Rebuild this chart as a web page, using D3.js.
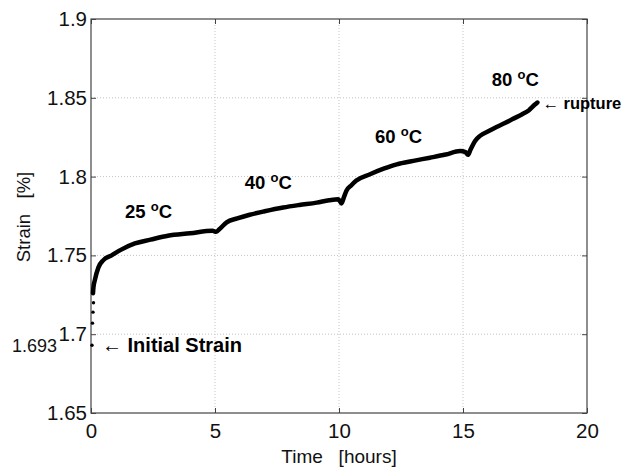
<!DOCTYPE html>
<html>
<head>
<meta charset="utf-8">
<script src="https://cdn.jsdelivr.net/npm/d3@7"></script>
<style>
  body { margin: 0; background: #fff; }
  text { font-family: "Liberation Sans", Arial, sans-serif; }
</style>
</head>
<body>
<div class="container"></div>
<script>
var margin = {top: 19, right: 44, bottom: 57, left: 91}
    , width = 631 - margin.left - margin.right
    , height = 470 - margin.top - margin.bottom;

// DATA
const timeHours = [0, 0.02, 0.04, 0.06, 0.08, 0.1, 0.15, 0.3, 0.5, 0.83, 1.2, 1.77, 2.4, 3.1, 4.0, 4.9,
  5.05, 5.2, 5.47, 5.9, 6.4, 7.0, 7.75, 8.4, 9.1, 9.6, 9.97,
  10.1, 10.2, 10.3, 10.5, 10.7, 11.25, 11.8, 12.33, 13.0, 13.67, 14.3, 14.88,
  15.1, 15.2, 15.3, 15.48, 15.7, 16.02, 16.35, 16.69, 17.0, 17.37, 17.65, 17.9, 18.0]
const strainPct = [1.693, 1.707, 1.714, 1.720, 1.726, 1.730, 1.734, 1.7424, 1.747, 1.750, 1.7535, 1.7576, 1.760, 1.7625, 1.764, 1.7656,
  1.765, 1.767, 1.771, 1.7735, 1.7758, 1.778, 1.7804, 1.782, 1.7835, 1.785, 1.7857,
  1.783, 1.787, 1.791, 1.7945, 1.7975, 1.8015, 1.805, 1.8078, 1.810, 1.812, 1.814, 1.8162,
  1.8155, 1.8138, 1.817, 1.8225, 1.826, 1.8288, 1.8315, 1.834, 1.8365, 1.8394, 1.842, 1.8457, 1.847]

const xTicks = [0, 5, 10, 15, 20]
const yTicks = [1.65, 1.7, 1.75, 1.8, 1.85, 1.9]

const tempLabels = ['25', '40', '60', '80']
const tempPos = [[1.37, 1.774], [6.2, 1.7922], [11.45, 1.8215], [16.16, 1.8574]]  // [time, strain] of label baseline

const initialStrain = 1.693
const ruptureTime = 18.0
const ruptureStrain = 1.8465

// COLORS
const black = '#000'
const axisColor = '#444'
const gridColor = '#c4c4c4'

var x = d3.scaleLinear().domain([0, 20]).range([0, width])
var y = d3.scaleLinear().domain([1.65, 1.9]).range([height, 0])

var svg = d3.select('div.container').append('svg')
    .attr('width', width + margin.left + margin.right)
    .attr('height', height + margin.top + margin.bottom)

var g = svg.append('g')
    .attr('transform', `translate(${margin.left},${margin.top})`)

// grid
g.selectAll('line.vgrid')
  .data(xTicks.slice(1, -1))
  .enter().append('line')
    .attr('class', 'vgrid')
    .attr('x1', d => x(d)).attr('x2', d => x(d))
    .attr('y1', 0).attr('y2', height)
    .attr('stroke', gridColor)
    .attr('stroke-dasharray', '1,2')

g.selectAll('line.hgrid')
  .data(yTicks.slice(1, -1))
  .enter().append('line')
    .attr('class', 'hgrid')
    .attr('x1', 0).attr('x2', width)
    .attr('y1', d => y(d)).attr('y2', d => y(d))
    .attr('stroke', gridColor)
    .attr('stroke-dasharray', '1,2')

// axes (ticks inward, on all four sides)
var tickStyle = function(sel) {
  sel.select('.domain').remove()
  sel.selectAll('.tick line').attr('stroke', axisColor)
  sel.selectAll('.tick text')
     .attr('fill', '#111')
     .style('font-size', '20.5px')
}

g.append('g')
  .attr('transform', `translate(0,${height})`)
  .call(d3.axisBottom(x).tickValues(xTicks).tickSize(-5).tickPadding(10).tickFormat(d3.format('d')))
  .call(tickStyle)

g.append('g')
  .call(d3.axisTop(x).tickValues(xTicks).tickSize(-5).tickFormat(''))
  .call(tickStyle)

g.append('g')
  .call(d3.axisLeft(y).tickValues(yTicks).tickSize(-5).tickPadding(4).tickFormat(d => d3.format('')(+d.toFixed(2))))
  .call(tickStyle)

g.append('g')
  .attr('transform', `translate(${width},0)`)
  .call(d3.axisRight(y).tickValues(yTicks).tickSize(-5).tickFormat(''))
  .call(tickStyle)

g.append('rect')
  .attr('width', width).attr('height', height)
  .attr('fill', 'none')
  .attr('stroke', axisColor)
  .attr('stroke-width', 1.2)

// data
var pts = timeHours.map((t, i) => ({t: t, s: strainPct[i]}))

var line = d3.line()
    .x(d => x(d.t))
    .y(d => y(d.s))
    .curve(d3.curveMonotoneX)

g.append('path')
  .datum(pts.filter(d => d.t >= 0.08))
  .attr('d', line)
  .attr('fill', 'none')
  .attr('stroke', black)
  .attr('stroke-width', 4.5)
  .attr('stroke-linejoin', 'round')
  .attr('stroke-linecap', 'round')

g.selectAll('circle')
  .data(pts.filter(d => d.t < 0.08))
  .enter().append('circle')
    .attr('cx', d => x(d.t) + 1)
    .attr('cy', d => y(d.s))
    .attr('r', 1.7)
    .attr('fill', black)

// temperature labels
var tl = g.selectAll('text.temp')
  .data(tempLabels)
  .enter().append('text')
    .attr('class', 'temp')
    .attr('x', (d, i) => x(tempPos[i][0]))
    .attr('y', (d, i) => y(tempPos[i][1]))
    .attr('font-weight', 'bold')
    .style('font-size', '18.5px')
tl.append('tspan').text(d => d + ' ')
tl.append('tspan').text('o').attr('dy', -7).style('font-size', '13px')
tl.append('tspan').text('C').attr('dy', 7)

// annotations
g.append('text')
  .attr('x', -34)
  .attr('y', y(initialStrain) + 7)
  .attr('text-anchor', 'end')
  .style('font-size', '18px')
  .attr('fill', '#111')
  .text('1.693')

g.append('text')
  .attr('x', x(0) + 11)
  .attr('y', y(initialStrain) + 7)
  .attr('font-weight', 'bold')
  .style('font-size', '20px')
  .text('← Initial Strain')

g.append('text')
  .attr('x', x(ruptureTime) + 5)
  .attr('y', y(ruptureStrain) + 6)
  .attr('font-weight', 'bold')
  .style('font-size', '16.5px')
  .text('← rupture')

// axis labels
svg.append('text')
  .attr('x', margin.left + width / 2)
  .attr('y', 463)
  .attr('text-anchor', 'middle')
  .style('font-size', '19px')
  .style('white-space', 'pre')
  .attr('fill', '#111')
  .text('Time   [hours]')

svg.append('text')
  .attr('transform', `translate(30,${margin.top + 198}) rotate(-90)`)
  .attr('text-anchor', 'middle')
  .style('font-size', '18.5px')
  .style('white-space', 'pre')
  .attr('fill', '#111')
  .text('Strain   [%]')
</script>
</body>
</html>
